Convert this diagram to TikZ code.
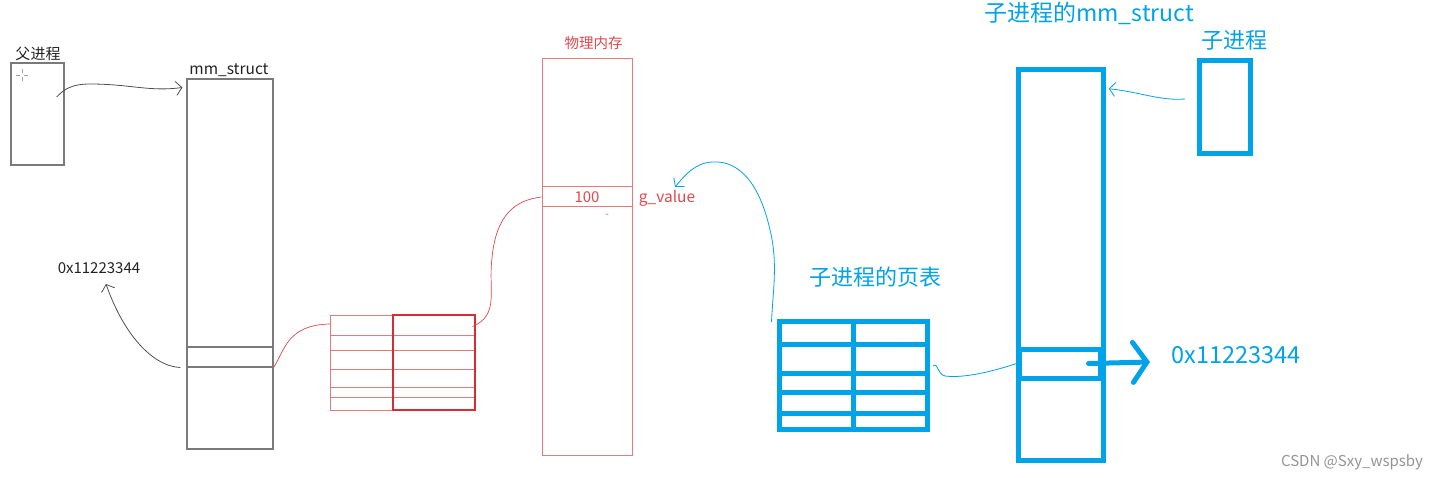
\documentclass[tikz,border=0pt]{standalone}
\usepackage{fontspec}
\setmainfont{Noto Sans CJK SC}
\usetikzlibrary{arrows.meta}
\definecolor{pblue}{HTML}{00A2E8}
\definecolor{pred}{HTML}{E0474C}
\definecolor{lred}{HTML}{E8787C}
\definecolor{dred}{HTML}{D92B33}
\definecolor{pgray}{HTML}{7A7A7A}
\definecolor{tgray}{HTML}{222222}
\tikzset{
  graybox/.style={draw=pgray,line width=1.1pt,inner sep=0pt,rectangle},
  redbox/.style={draw=lred,line width=1pt,inner sep=0pt,rectangle},
  bluebox/.style={draw=pblue,line width=5pt,inner sep=0pt,rectangle},
  lbl/.style={inner sep=0pt,anchor=center},
}
\begin{document}
\begin{tikzpicture}[x=1pt,y=-1pt]
\useasboundingbox (0,0) rectangle (1439,478);

% ---------- parent process ----------
\node[graybox,minimum width=53pt,minimum height=102pt] (parent) at (37.5,114) {};
\node[lbl,font=\fontsize{15}{15}\selectfont,text=tgray] (parentlbl) at (38,54) {父进程};
\draw[pgray!70,line width=0.7pt] (22,69) -- (22,73) (22,77) -- (22,81) (16,75) -- (20,75) (24,75) -- (28,75);

\node[graybox,minimum width=86pt,minimum height=370pt] (mm) at (230,264) {};
\node[lbl,font=\fontsize{15.5}{15.5}\selectfont,text=tgray] (mmlbl) at (229,70) {mm\_struct};
\node[graybox,minimum width=86pt,minimum height=20pt] (mmcell) at (230,357) {};

\draw[tgray!80,line width=0.8pt,-{Straight Barb[length=6pt,width=14pt]}]
  ([xshift=-8pt,yshift=17pt]parent.east) .. controls (62,92) and (68,84) .. (90,84)
  .. controls (130,84) and (150,92) .. ([xshift=-4pt,yshift=-9pt]mm.north west);

\node[lbl,font=\fontsize{15}{15}\selectfont,text=tgray] (paddr) at (99,268) {0x11223344};
\draw[tgray!80,line width=0.8pt,-{Straight Barb[length=6pt,width=14pt]}]
  ([xshift=-6pt]mmcell.south west) .. controls (150,366) and (122,330) .. (106,284);

% ---------- red page table ----------
\node[draw=lred,line width=0.9pt,inner sep=0pt,minimum width=145pt,minimum height=95pt] (rtab) at (402.5,362.5) {};
\foreach \yy in {335,350,369,387,397} \draw[lred,line width=0.9pt] (330,\yy) -- (475,\yy);
\draw[lred,line width=0.9pt] (393,315) -- (393,410);
\draw[dred,line width=1.2pt] (393,315) rectangle (475,410);

\draw[pred,line width=0.7pt] (mmcell.south east) .. controls (285,350) and (287,325) .. (330,324);

% ---------- physical memory ----------
\node[redbox,minimum width=90pt,minimum height=396pt] (mem) at (587,257) {};
\node[lbl,font=\fontsize{14.5}{14.5}\selectfont,text=pred] (memlbl) at (593.5,43) {物理内存};
\node[redbox,minimum width=90pt,minimum height=20pt,font=\fontsize{15}{15}\selectfont,text=pred] (memcell) at (587,197) {100};
\node[lbl,font=\fontsize{15.5}{15.5}\selectfont,text=pred] (gval) at (667,198) {g\_value};
\node[lbl,font=\fontsize{10}{10}\selectfont,text=pred] (dash) at (607,216) {-};

\draw[pred,line width=0.7pt] ([xshift=-3pt,yshift=-12pt]rtab.north east) .. controls (500,315) and (488,290) .. (492,258)
  .. controls (496,215) and (515,200) .. (memcell.west);

% ---------- child page table ----------
\node[lbl,font=\fontsize{22}{22}\selectfont,text=pblue] (ptlbl) at (875,277) {子进程的页表};
\node[bluebox,minimum width=148.5pt,minimum height=108pt] (btab) at (853.25,375.5) {};
\foreach \yy in {344,373.5,392,413} \draw[pblue,line width=5pt] (779,\yy) -- (927.5,\yy);
\draw[pblue,line width=5pt] (853,321.5) -- (853,429.5);

\draw[pblue,line width=0.8pt,-{Straight Barb[length=6pt,width=14pt]}]
  ([xshift=-5pt,yshift=-3pt]btab.north west) .. controls (773,290) and (778,262) .. (770,230)
  .. controls (760,185) and (740,160) .. (712,162)
  .. controls (695,163) and (685,175) .. (675,187);

% ---------- child mm_struct ----------
\node[bluebox,minimum width=84.5pt,minimum height=391.5pt] (cmm) at (1061,265) {};
\node[lbl,font=\fontsize{23}{23}\selectfont,text=pblue] (cmmlbl) at (1089,13) {子进程的mm\_struct};
\node[draw=pblue,line width=5pt,inner sep=0pt,minimum width=81pt,minimum height=29pt] (ccell) at (1059.5,363.5) {};

\draw[pblue,line width=0.8pt] (ccell.west) .. controls (985,374) and (960,378) .. (945,376)
  .. controls (937,374) and (938,362) .. (933,366);

\draw[pblue,line width=5pt,line cap=round,-{Straight Barb[length=14pt,width=40pt,line cap=round]}]
  ([xshift=-14pt]ccell.east) -- (1150,362);
\node[lbl,font=\fontsize{23.5}{23.5}\selectfont,text=pblue] (caddr) at (1236,355) {0x11223344};

% ---------- child process ----------
\node[bluebox,minimum width=51pt,minimum height=92.5pt] (child) at (1225,107) {};
\node[lbl,font=\fontsize{22}{22}\selectfont,text=pblue] (childlbl) at (1234,40) {子进程};
\draw[pblue,line width=0.8pt,-{Straight Barb[length=6pt,width=14pt]}]
  ([xshift=-12pt,yshift=8pt]child.west) .. controls (1160,101) and (1140,92) .. ([xshift=3pt,yshift=-22pt]cmm.north east);

\node[lbl,font=\fontsize{15}{15}\selectfont,text=gray!85] (csdn) at (1352,462) {CSDN @Sxy\_wspsby};
\end{tikzpicture}
\end{document}
